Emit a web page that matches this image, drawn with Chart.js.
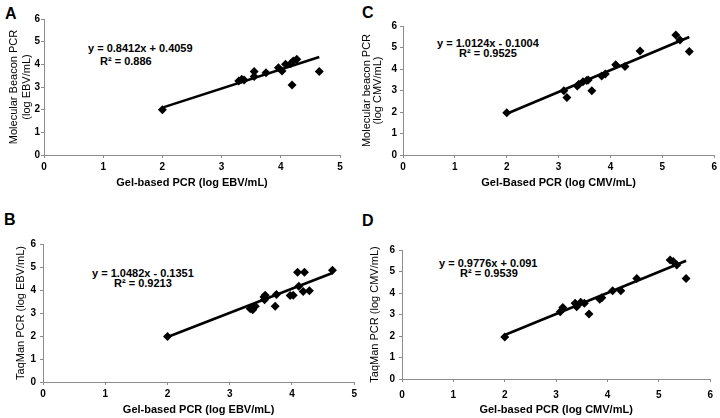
<!DOCTYPE html>
<html>
<head>
<meta charset="utf-8">
<script src="https://cdn.jsdelivr.net/npm/chart.js@4.4.0/dist/chart.umd.min.js"></script>
<style>
  body { margin: 0; background: #fff; width: 720px; height: 418px; position: relative; overflow: hidden;
         font-family: "Liberation Sans", Arial, sans-serif; }
  canvas { position: absolute; }
  .eq { position: absolute; font-weight: bold; font-size: 11px; line-height: 13px; color: #000; white-space: nowrap; }
  .let { position: absolute; font-weight: bold; font-size: 16px; line-height: 18px; color: #000; }
</style>
</head>
<body>
<div class="let" style="left:5px;top:5px">A</div>
<div class="let" style="left:362px;top:4px">C</div>
<div class="let" style="left:4px;top:211px">B</div>
<div class="let" style="left:362px;top:212px">D</div>

<div class="eq" style="left:88px;top:42px">y = 0.8412x + 0.4059</div>
<div class="eq" style="left:100px;top:55px">R² = 0.886</div>
<div class="eq" style="left:437px;top:37px">y = 1.0124x - 0.1004</div>
<div class="eq" style="left:459px;top:47px">R² = 0.9525</div>
<div class="eq" style="left:92px;top:267px">y = 1.0482x - 0.1351</div>
<div class="eq" style="left:114px;top:277px">R² = 0.9213</div>
<div class="eq" style="left:439px;top:257px">y = 0.9776x + 0.091</div>
<div class="eq" style="left:460px;top:267px">R² = 0.9539</div>

<canvas id="chartA" width="360" height="200" style="left:0;top:0"></canvas>
<canvas id="chartC" width="360" height="200" style="left:360px;top:0"></canvas>
<canvas id="chartB" width="360" height="213" style="left:0;top:205px"></canvas>
<canvas id="chartD" width="360" height="213" style="left:360px;top:205px"></canvas>

<script>
'use strict';

// A: EBV, gel-based vs molecular beacon
const gelA = [2.0, 3.29, 3.34, 3.38, 3.55, 3.55, 3.75, 3.96, 4.02, 4.08, 4.17, 4.21, 4.27, 4.19, 4.65];
const mbA  = [2.0, 3.26, 3.34, 3.31, 3.68, 3.46, 3.63, 3.85, 3.71, 4.0, 4.04, 4.15, 4.22, 3.09, 3.68];
const trendAx = [2.0, 4.65];
const trendAy = [2.09, 4.32];

// B: EBV, gel-based vs TaqMan
const gelB = [2.0, 3.33, 3.37, 3.41, 3.55, 3.56, 3.57, 3.73, 3.75, 3.97, 4.02, 4.09, 4.11, 4.2, 4.18, 4.28, 4.65];
const tmB  = [1.98, 3.19, 3.14, 3.29, 3.7, 3.58, 3.77, 3.29, 3.8, 3.76, 3.77, 4.77, 4.16, 4.77, 3.93, 3.97, 4.86];
const trendBx = [2.0, 4.65];
const trendBy = [1.96, 4.74];

// C: CMV, gel-based vs molecular beacon
const gelC = [2.0, 3.1, 3.16, 3.36, 3.39, 3.47, 3.54, 3.57, 3.64, 3.83, 3.9, 4.1, 4.28, 4.57, 5.26, 5.34, 5.52];
const mbC  = [1.97, 2.99, 2.68, 3.21, 3.29, 3.41, 3.46, 3.49, 2.99, 3.67, 3.77, 4.2, 4.12, 4.84, 5.58, 5.35, 4.81];
const trendCx = [2.0, 5.52];
const trendCy = [1.92, 5.49];

// D: CMV, gel-based vs TaqMan
const gelD = [2.0, 3.08, 3.13, 3.37, 3.4, 3.48, 3.55, 3.64, 3.85, 3.89, 4.1, 4.26, 4.57, 5.22, 5.28, 5.35, 5.53];
const tmD  = [1.95, 3.13, 3.33, 3.52, 3.36, 3.57, 3.52, 3.02, 3.71, 3.78, 4.11, 4.11, 4.68, 5.53, 5.46, 5.3, 4.68];
const trendDx = [2.0, 5.53];
const trendDy = [2.05, 5.5];

const yTicks = [0, 1, 2, 3, 4, 5, 6];

const FONT = '"Liberation Sans", Arial, sans-serif';
const AXIS = '#8c8c8c';

function pairs(xs, ys) {
  return xs.map((x, i) => ({ x: x, y: ys[i] }));
}

function makePanel(id, p) {
  new Chart(document.getElementById(id), {
    type: 'scatter',
    data: {
      datasets: [
        {
          data: pairs(p.xs, p.ys),
          pointStyle: 'rectRot',
          pointRadius: 4.5,
          backgroundColor: '#000',
          borderColor: '#000',
          borderWidth: 0
        },
        {
          type: 'line',
          data: pairs(p.tx, p.ty),
          borderColor: '#000',
          borderWidth: 2.6,
          pointRadius: 0,
          fill: false
        }
      ]
    },
    options: {
      responsive: false,
      animation: false,
      layout: { padding: { left: 0, top: p.top, right: p.right, bottom: 0 } },
      plugins: { legend: { display: false }, tooltip: { enabled: false } },
      scales: {
        x: {
          type: 'linear', min: 0, max: p.xMax,
          border: { color: AXIS },
          grid: { drawOnChartArea: false, color: AXIS, tickLength: 3 },
          ticks: { stepSize: 1, padding: p.xTickPad, color: '#000', font: { family: FONT, size: 10, weight: 'bold' } },
          title: { display: true, text: p.xTitle, color: '#000',
                   font: { family: FONT, size: 11, weight: 'bold' }, padding: { top: 0, bottom: p.xTitlePad } },
          afterFit: (s) => { s.height = p.xH; }
        },
        y: {
          type: 'linear', min: yTicks[0], max: yTicks[yTicks.length - 1],
          border: { color: AXIS },
          grid: { drawOnChartArea: false, color: AXIS, tickLength: 3 },
          ticks: { stepSize: 1, padding: p.yTickPad, color: '#000', font: { family: FONT, size: 10, weight: 'bold' } },
          title: { display: true, text: p.yTitle, color: '#000',
                   font: { family: FONT, size: 11, weight: 'normal', lineHeight: p.yLh }, padding: { top: p.yTitlePad, bottom: 0 } },
          afterFit: (s) => { s.width = p.yW; }
        }
      }
    }
  });
}

makePanel('chartA', {
  xs: gelA, ys: mbA, tx: trendAx, ty: trendAy, xMax: 5,
  top: 19, right: 20, xH: 45, yW: 44,
  xTickPad: 3, yTickPad: 1, xTitlePad: 10.4, yTitlePad: 7.5, yLh: '13px',
  xTitle: 'Gel-based PCR (log EBV/mL)',
  yTitle: ['Molecular Beacon PCR', '(log EBV/mL)']
});

makePanel('chartC', {
  xs: gelC, ys: mbC, tx: trendCx, ty: trendCy, xMax: 6,
  top: 26, right: 5, xH: 45, yW: 43,
  xTickPad: 3, yTickPad: 3, xTitlePad: 10.4, yTitlePad: 2, yLh: '10.5px',
  xTitle: 'Gel-Based PCR (log CMV/mL)',
  yTitle: ['Molecular beacon PCR', '(log CMV/mL)']
});

makePanel('chartB', {
  xs: gelB, ys: tmB, tx: trendBx, ty: trendBy, xMax: 5,
  top: 39, right: 4, xH: 36, yW: 43,
  xTickPad: 3, yTickPad: 4, xTitlePad: 1.4, yTitlePad: 14.4, yLh: 1.2,
  xTitle: 'Gel-based PCR (log EBV/mL)',
  yTitle: 'TaqMan PCR (log EBV/mL)'
});

makePanel('chartD', {
  xs: gelD, ys: tmD, tx: trendDx, ty: trendDy, xMax: 6,
  top: 45, right: 6, xH: 39, yW: 42,
  xTickPad: 7, yTickPad: 4, xTitlePad: 1.4, yTitlePad: 8.4, yLh: 1.2,
  xTitle: 'Gel-based PCR (log CMV/mL)',
  yTitle: 'TaqMan PCR (log CMV/mL)'
});
</script>
</body>
</html>
